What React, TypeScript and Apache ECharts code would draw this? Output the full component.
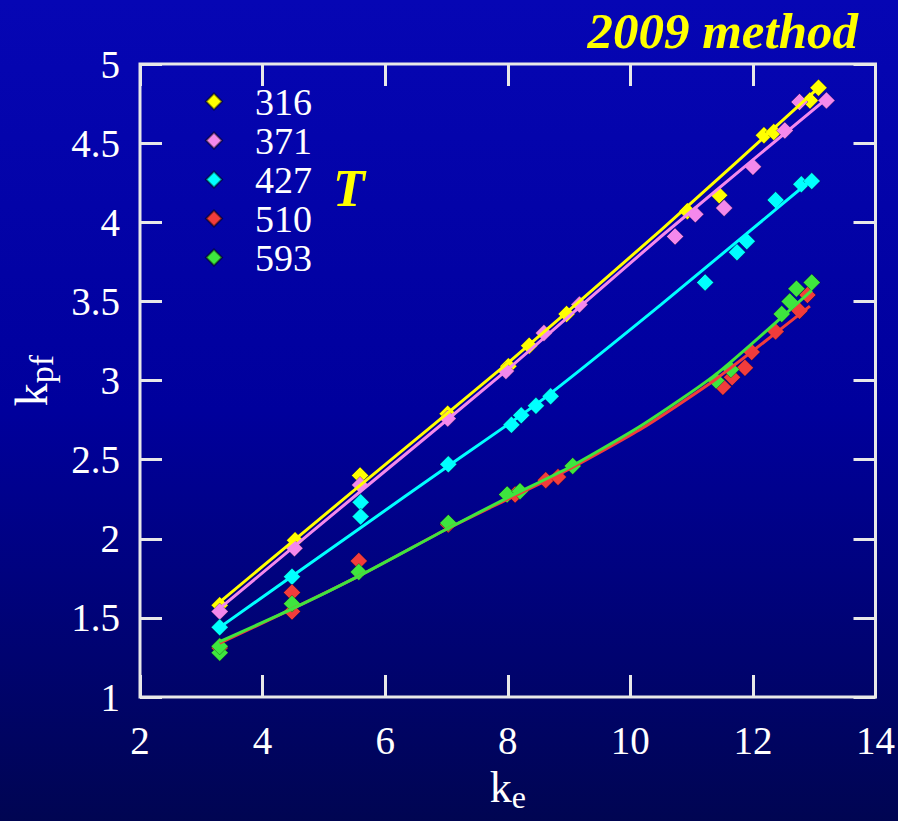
import React, { useEffect, useRef } from "react";
import * as echarts from "echarts";

const seriesNames = ["316", "371", "427", "510", "593"];
const colors = ["#ffff00", "#f488ec", "#00ffff", "#f23c3c", "#3ee63e"];

const ke316 = [3.3, 4.53, 5.59, 7.02, 8.01, 8.35, 8.96, 10.93, 11.45, 12.18, 12.34, 12.93, 13.07];
const kpf316 = [1.58, 1.99, 2.4, 2.79, 3.09, 3.22, 3.42, 4.07, 4.17, 4.55, 4.57, 4.77, 4.85];

const ke371 = [3.3, 4.52, 5.59, 7.02, 7.97, 8.59, 9.17, 10.73, 11.06, 11.53, 12.0, 12.52, 12.76, 13.2];
const kpf371 = [1.54, 1.94, 2.34, 2.76, 3.06, 3.3, 3.48, 3.91, 4.05, 4.09, 4.35, 4.58, 4.76, 4.77];

const ke427 = [3.3, 4.48, 5.6, 5.6, 7.03, 8.06, 8.22, 8.46, 8.7, 11.22, 11.74, 11.9, 12.37, 12.79, 12.96];
const kpf427 = [1.44, 1.76, 2.23, 2.14, 2.47, 2.72, 2.78, 2.84, 2.9, 3.62, 3.81, 3.88, 4.14, 4.24, 4.26];

const ke510 = [3.3, 4.48, 4.48, 5.57, 7.03, 8.12, 8.62, 8.82, 11.51, 11.66, 11.87, 11.98, 12.37, 12.76, 12.89];
const kpf510 = [1.31, 1.66, 1.54, 1.86, 2.09, 2.28, 2.37, 2.39, 2.96, 3.02, 3.08, 3.18, 3.31, 3.44, 3.54];

const ke593 = [3.3, 3.3, 4.48, 5.57, 7.03, 7.99, 8.2, 9.06, 11.4, 11.64, 12.47, 12.6, 12.71, 12.96];
const kpf593 = [1.28, 1.32, 1.59, 1.79, 2.1, 2.28, 2.3, 2.46, 3.0, 3.07, 3.42, 3.5, 3.58, 3.62];

// fitted curves
const fitKe316 = [3.3, 5.6, 8, 10.5, 13.1];
const fitKpf316 = [1.6, 2.34, 3.11, 3.95, 4.86];
const fitKe371 = [3.3, 5.6, 8, 10.5, 13.2];
const fitKpf371 = [1.56, 2.3, 3.07, 3.91, 4.78];
const fitKe427 = [3.3, 5.6, 7.03, 8.5, 10.5, 12.96];
const fitKpf427 = [1.44, 2.07, 2.46, 2.86, 3.48, 4.27];
const fitKe510 = [3.3, 4.5, 5.6, 7, 8, 9, 10.2, 11.4, 12.93];
const fitKpf510 = [1.34, 1.56, 1.77, 2.06, 2.25, 2.44, 2.7, 3.01, 3.47];
const fitKe593 = [3.3, 4.5, 5.6, 7, 8, 9, 10.2, 11.4, 12.96];
const fitKpf593 = [1.35, 1.56, 1.77, 2.06, 2.26, 2.45, 2.72, 3.04, 3.57];

const xTicks = { min: 2, max: 14, interval: 2 };
const yTicks = { min: 1, max: 5, interval: 0.5 };

const pts = (xs: number[], ys: number[]) => xs.map((x, i) => [x, ys[i]]);

const scatterData = [
  pts(ke316, kpf316),
  pts(ke371, kpf371),
  pts(ke427, kpf427),
  pts(ke510, kpf510),
  pts(ke593, kpf593),
];
const fitData = [
  pts(fitKe316, fitKpf316),
  pts(fitKe371, fitKpf371),
  pts(fitKe427, fitKpf427),
  pts(fitKe510, fitKpf510),
  pts(fitKe593, fitKpf593),
];

const FONT = "'Liberation Serif', 'DejaVu Serif', serif";

export default function App() {
  const ref = useRef<HTMLDivElement>(null);
  useEffect(() => {
    document.body.style.margin = "0";
    const chart = echarts.init(ref.current!, null, { renderer: "svg" });
    const series: any[] = [];
    seriesNames.forEach((name, i) => {
      series.push({
        name,
        type: "scatter",
        data: scatterData[i],
        symbol: "diamond",
        symbolSize: 17,
        itemStyle: { color: colors[i], opacity: 1, borderColor: "rgba(0,0,0,0.5)", borderWidth: 0.6 },
        z: 3,
      });
      series.push({
        name: name + " fit",
        type: "line",
        data: fitData[i],
        showSymbol: false,
        smooth: 0.2,
        lineStyle: { color: colors[i], width: 3 },
        z: 4,
      });
    });
    const tickStyle = { show: true, inside: true, length: 22, lineStyle: { color: "#e8e8e8", width: 3 } };
    const labelStyle = { color: "#ffffff", fontFamily: FONT, fontSize: 39 };
    const xRich = {
      a: { color: "#fff", fontFamily: FONT, fontSize: 44 },
      b: { color: "#fff", fontFamily: FONT, fontSize: 32, padding: [20, 0, 0, 0] },
    };
    const yRich = {
      a: { color: "#fff", fontFamily: FONT, fontSize: 46 },
      b: { color: "#fff", fontFamily: FONT, fontSize: 34, padding: [20, 0, 0, 0] },
    };
    chart.setOption({
      animation: false,
      backgroundColor: {
        type: "linear",
        x: 0,
        y: 0,
        x2: 0,
        y2: 1,
        colorStops: [
          { offset: 0, color: "#0606b4" },
          { offset: 0.5, color: "#00009c" },
          { offset: 1, color: "#000552" },
        ],
      },
      grid: {
        left: 137,
        right: 22,
        top: 64,
        bottom: 124,
        show: true,
        borderColor: "#e8e8e8",
        borderWidth: 3,
        backgroundColor: "transparent",
      },
      legend: {
        data: seriesNames.map((n) => ({ name: n, icon: "diamond" })),
        orient: "vertical",
        left: 200,
        top: 77,
        itemWidth: 16,
        itemHeight: 16,
        itemGap: 0,
        textStyle: { color: "#ffffff", fontFamily: FONT, fontSize: 38, lineHeight: 39, padding: [0, 0, 0, 28] },
      },
      xAxis: [
        {
          type: "value",
          ...xTicks,
          position: "bottom",
          axisLine: { show: false },
          axisTick: tickStyle,
          splitLine: { show: false },
          axisLabel: { ...labelStyle, margin: 24 },
          name: "{a|k}{b|e}",
          nameLocation: "middle",
          nameGap: 64,
          nameTextStyle: { rich: xRich },
        },
        {
          type: "value",
          ...xTicks,
          position: "top",
          axisLine: { show: false },
          axisTick: tickStyle,
          splitLine: { show: false },
          axisLabel: { show: false },
        },
      ],
      yAxis: [
        {
          type: "value",
          ...yTicks,
          position: "left",
          axisLine: { show: false },
          axisTick: tickStyle,
          splitLine: { show: false },
          axisLabel: { ...labelStyle, margin: 20 },
          name: "{a|k}{b|pf}",
          nameLocation: "middle",
          nameGap: 82,
          nameRotate: 90,
          nameTextStyle: { rich: yRich },
        },
        {
          type: "value",
          ...yTicks,
          position: "right",
          axisLine: { show: false },
          axisTick: tickStyle,
          splitLine: { show: false },
          axisLabel: { show: false },
        },
      ],
      graphic: [
        {
          type: "text",
          right: 40,
          top: 5,
          style: {
            text: "2009 method",
            fill: "#ffff00",
            font: "italic bold 51px 'Liberation Serif'",
          },
        },
        {
          type: "text",
          left: 333,
          top: 162,
          style: {
            text: "T",
            fill: "#ffff00",
            font: "italic bold 52px 'Liberation Serif'",
          },
        },
      ],
      series,
    });
    return () => chart.dispose();
  }, []);
  return <div ref={ref} style={{ position: "absolute", left: 0, top: 0, width: 898, height: 821 }} />;
}
